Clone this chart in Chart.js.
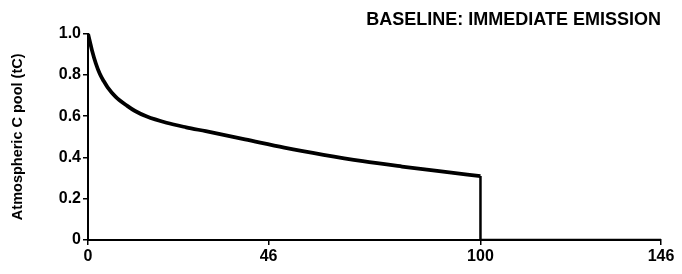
<!DOCTYPE html>
<html>
<head>
<meta charset="utf-8">
<script src="https://cdn.jsdelivr.net/npm/chart.js@4.4.1/dist/chart.umd.min.js"></script>
<style>
  html, body { margin: 0; padding: 0; background: #fff; }
  #wrap { width: 682px; height: 274px; }
</style>
</head>
<body>
<div id="wrap"><canvas id="c" width="682" height="274"></canvas></div>
<script>
// Years after emission and fraction of the emitted tonne still in the atmosphere
const years = [0, 0.5, 1, 2, 3, 4, 5, 7, 10, 12, 15, 20, 25, 30, 40, 50, 60, 70, 80, 90, 100];
const atmFraction = [1.0, 0.96, 0.92, 0.855, 0.805, 0.77, 0.74, 0.695, 0.65, 0.625, 0.598, 0.568, 0.546, 0.527, 0.488, 0.448, 0.413, 0.382, 0.356, 0.332, 0.31];
// After the 100-year horizon the pool is counted as zero
const afterYears = [100, 100, 146];
const afterFraction = [0.31, 0, 0];
const xTicks = [0, 46, 100, 146];
const yTicks = [0, 0.2, 0.4, 0.6, 0.8, 1.0];
const yTickLabels = ['0', '0.2', '0.4', '0.6', '0.8', '1.0'];
const titleText = 'BASELINE: IMMEDIATE EMISSION';
const yTitle = 'Atmospheric C pool (tC)';

const curve = years.map((x, i) => ({ x, y: atmFraction[i] }));
const after = afterYears.map((x, i) => ({ x, y: afterFraction[i] }));

const FONT = "'Liberation Sans', Arial, sans-serif";

new Chart(document.getElementById('c'), {
  type: 'line',
  data: {
    datasets: [
      { data: curve, borderColor: '#000', borderWidth: 3.8, pointRadius: 0, fill: false,
        cubicInterpolationMode: 'monotone' },
      { data: after, borderColor: '#000', borderWidth: 2.5, pointRadius: 0, fill: false, tension: 0 }
    ]
  },
  options: {
    responsive: false,
    animation: false,
    layout: { padding: { left: 0, right: 21, top: 0, bottom: 0 } },
    plugins: {
      legend: { display: false },
      tooltip: { enabled: false },
      title: {
        display: true, text: titleText, align: 'end', color: '#000',
        font: { family: FONT, size: 18, weight: 'bold' },
        padding: { top: 9, bottom: 3 }
      }
    },
    scales: {
      x: {
        type: 'linear', min: 0, max: 146,
        afterBuildTicks: s => { s.ticks = xTicks.map(v => ({ value: v })); },
        afterFit: s => { s.height = 34; },
        ticks: { color: '#000', font: { family: FONT, size: 16, weight: 'bold' }, padding: 2,
                 maxRotation: 0, autoSkip: false },
        grid: { display: true, drawOnChartArea: false, drawTicks: true, tickLength: 5, color: '#000', lineWidth: 1.5 },
        border: { display: true, color: '#000', width: 2 }
      },
      y: {
        type: 'linear', min: 0, max: 1.0,
        afterBuildTicks: s => { s.ticks = yTicks.map(v => ({ value: v })); },
        afterFit: s => { s.width = 88; },
        ticks: { color: '#000', font: { family: FONT, size: 16, weight: 'bold' }, padding: 2,
                 callback: (v) => yTickLabels[yTicks.indexOf(v)] },
        grid: { display: true, drawOnChartArea: false, drawTicks: true, tickLength: 5, color: '#000', lineWidth: 1.5 },
        border: { display: true, color: '#000', width: 2 },
        title: { display: true, text: yTitle, color: '#000',
                 font: { family: FONT, size: 14.5, weight: 'bold' }, padding: { top: 9, bottom: 2 } }
      }
    }
  }
});
</script>
</body>
</html>
